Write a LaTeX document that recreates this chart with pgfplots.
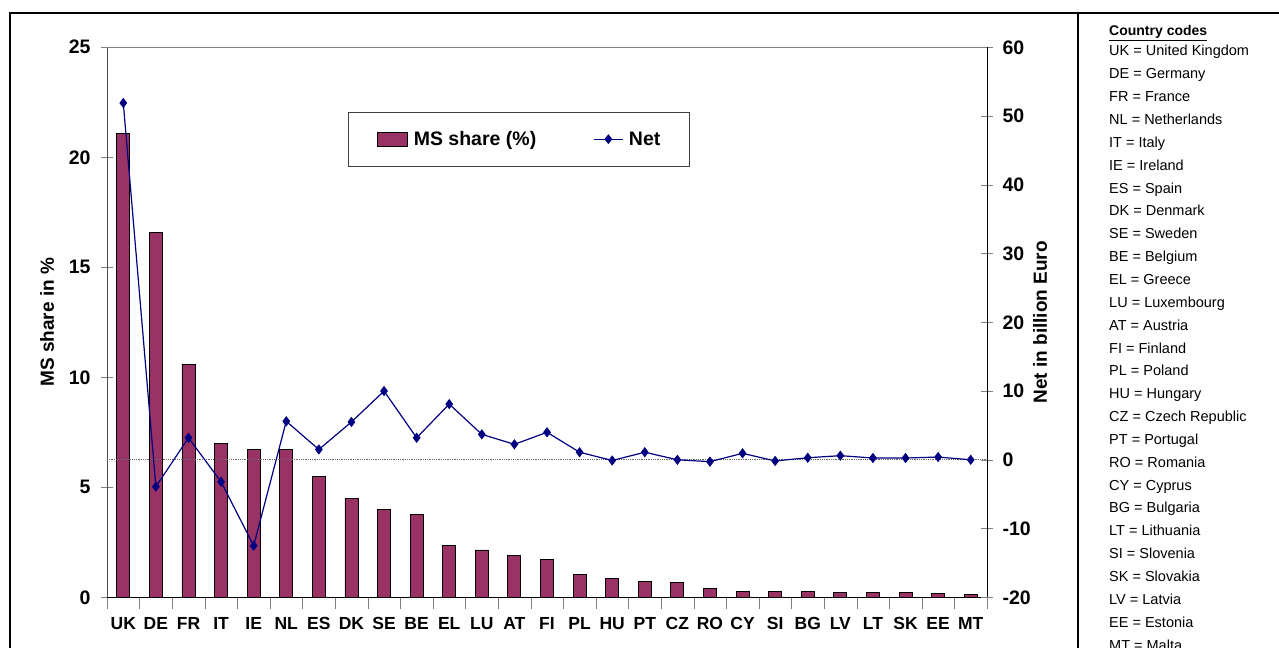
\documentclass[border=0pt]{standalone}
\usepackage{pgfplots}
\pgfplotsset{compat=1.18}
\usepackage{pgfplotstable}
\usepackage{fontspec}
\setmainfont{Liberation Sans}
\definecolor{plum}{RGB}{153,51,102}
\definecolor{navyc}{RGB}{0,0,128}

\pgfplotstableread{
idx code share net
0  UK 21.1 51.9
1  DE 16.6 -3.9
2  FR 10.6 3.2
3  IT 7.0 -3.2
4  IE 6.7 -12.5
5  NL 6.7 5.6
6  ES 5.5 1.5
7  DK 4.5 5.5
8  SE 4.0 10.0
9  BE 3.75 3.2
10 EL 2.35 8.1
11 LU 2.15 3.7
12 AT 1.9 2.25
13 FI 1.7 4.0
14 PL 1.05 1.1
15 HU 0.85 -0.1
16 PT 0.74 1.1
17 CZ 0.68 0.0
18 RO 0.38 -0.27
19 CY 0.27 0.94
20 SI 0.27 -0.17
21 BG 0.26 0.3
22 LV 0.23 0.6
23 LT 0.23 0.26
24 SK 0.2 0.26
25 EE 0.17 0.4
26 MT 0.14 0.0
}\data

\newcommand{\tickfont}{\fontsize{19.5bp}{20bp}\selectfont\bfseries}
\newcommand{\xfont}{\fontsize{17.5bp}{18bp}\selectfont\bfseries}
\newcommand{\labfont}{\fontsize{19bp}{20bp}\selectfont\bfseries}
\newcommand{\listfont}{\fontsize{14.5bp}{16bp}\selectfont}

\pgfplotsset{
  common/.style={
    at={(107bp,50.7bp)}, anchor=south west,
    scale only axis, width=880bp, height=550bp,
    xmin=-0.5, xmax=26.5,
    tick align=center, major tick length=12bp, minor tick length=12bp,
    /pgf/number format/assume math mode=true,
    tick label style={font=\tickfont},
  },
}

\begin{document}
\begin{tikzpicture}[x=1bp,y=1bp]
\useasboundingbox (0,0) rectangle (1279,648);
\draw[line width=2bp] (9.5,0) -- (9.5,635) -- (1279,635);
\draw[line width=2bp] (1078,0) -- (1078,635);

\begin{axis}[common,
  ymin=0, ymax=25,
  axis x line*=bottom, axis y line*=left,
  x axis line style={black, line width=1bp},
  y axis line style={black!70, line width=1bp},
  ytick={0,5,...,25},
  yticklabel style={xshift=-7bp},
  xtick={-0.5,0.5,...,26.5}, xticklabels={},
  extra x ticks={0,1,...,26},
  extra x tick labels={UK,DE,FR,IT,IE,NL,ES,DK,SE,BE,EL,LU,AT,FI,PL,HU,PT,CZ,RO,CY,SI,BG,LV,LT,SK,EE,MT},
  extra x tick style={major tick length=0pt, tick label style={font=\xfont, yshift=-16bp, text height=13bp, text depth=0pt}},
  every axis y label/.style={at={(axis description cs:-0.0682,0.5)}, rotate=90, anchor=center, font=\labfont},
  ylabel={MS share in \%},
  ybar, bar width=13bp,
]
\addplot[fill=plum, draw=black, line width=0.9bp] table[x=idx,y=share]{\data};
\end{axis}

\begin{axis}[common,
  ymin=-20, ymax=60,
  axis x line*=top, axis y line*=right,
  x axis line style={black!50, line width=1bp},
  y axis line style={black, line width=1bp},
  xtick=\empty,
  ytick={-20,-10,...,60},
  yticklabel style={xshift=6bp},
  every axis y label/.style={at={(axis description cs:1.0602,0.5)}, rotate=90, anchor=center, font=\labfont},
  ylabel={Net in billion Euro},
  legend style={at={(axis description cs:0.2739,0.8824)}, anchor=north west,
    draw=black!75, line width=0.8bp, fill=white,
    inner xsep=29bp, inner ysep=19bp,
    font=\fontsize{19.5bp}{20bp}\selectfont\bfseries,
    legend columns=2,
    nodes={inner sep=0pt},
    /tikz/every odd column/.append style={column sep=5.5bp},
    /tikz/every even column/.append style={column sep=57bp}},
]
\addplot[black!60, densely dotted, line width=0.8bp, forget plot] coordinates {(-0.5,0) (26.5,0)};
\addlegendimage{legend image code/.code={\draw[fill=plum, draw=black, line width=0.9bp] (0bp,-7bp) rectangle (30bp,7bp);}}
\addlegendentry{MS share (\%)}
\addplot[navyc, line width=1.2bp, mark=diamond*, mark size=4.2bp,
  legend image code/.code={\draw[navyc, line width=1.2bp] (0bp,0bp) -- (29bp,0bp);
    \fill[navyc] (14.5bp,0) +(0,4bp) -- +(3.2bp,0) -- +(0,-4bp) -- +(-3.2bp,0) -- cycle;}]
  table[x=idx,y=net]{\data};
\addlegendentry{Net}
\end{axis}

\node[anchor=base west, inner sep=0pt, font=\fontsize{14bp}{16bp}\selectfont\bfseries] at (1109,612.5) {\underline{Country codes}};
\foreach \t [count=\i from 0] in {UK = United Kingdom, DE = Germany, FR = France, NL = Netherlands, IT = Italy, IE = Ireland, ES = Spain, DK = Denmark, SE = Sweden, BE = Belgium, EL = Greece, LU = Luxembourg, AT = Austria, FI = Finland, PL = Poland, HU = Hungary, CZ = Czech Republic, PT = Portugal, RO = Romania, CY = Cyprus, BG = Bulgaria, LT = Lithuania, SI = Slovenia, SK = Slovakia, LV = Latvia, EE = Estonia, MT = Malta}
  \node[anchor=base west, inner sep=0pt, font=\listfont] at (1109,{592-22.85*\i}) {\t};
\end{tikzpicture}
\end{document}
